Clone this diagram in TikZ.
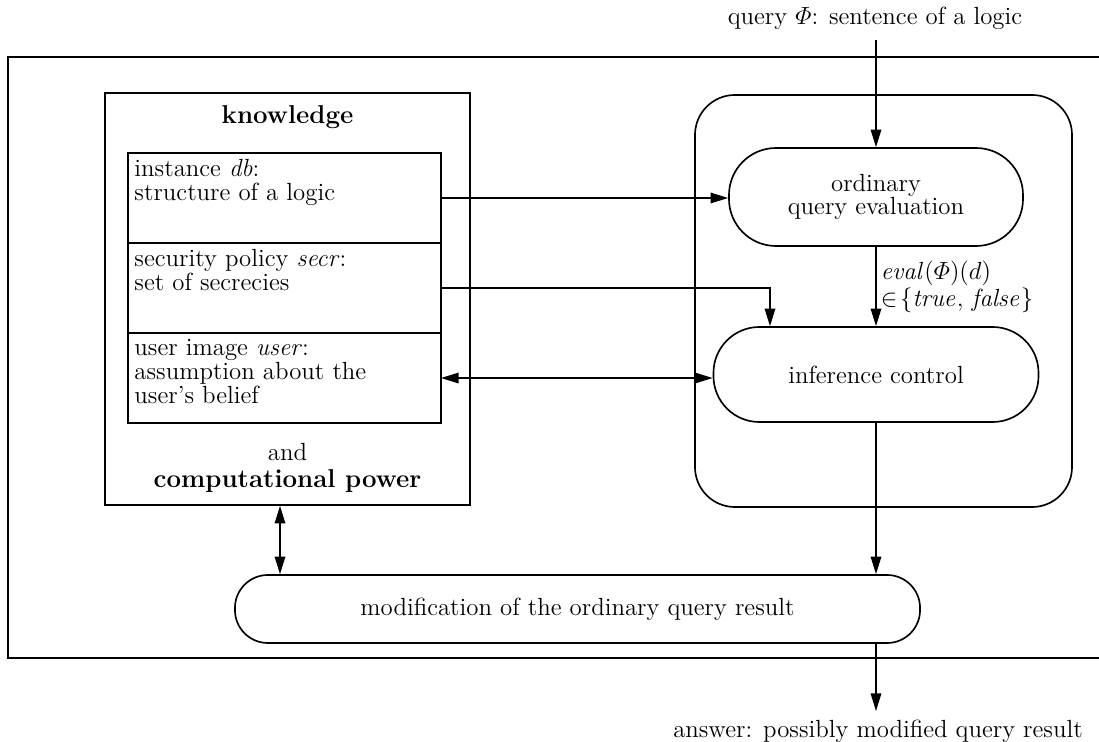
\documentclass[tikz,border=0pt]{standalone}
\usepackage{amsmath}
\usepackage{tikz}
\usetikzlibrary{
    arrows.meta,
    positioning,
    calc
}
\newcommand{\celltext}[1]{\parbox[c][1.3cm][t]{5.1cm}{\raggedright #1}}
\tikzset{
    % Outer system frame
    frameline/.style={
        line width=1.2pt
    },
    % Knowledge container
    knowbox/.style={
        rectangle,
        draw,
        line width=0.8pt,
        minimum width=6.205cm,
        minimum height=7.004cm
    },
    % Stacked cell inside knowledge box
    cellbox/.style={
        rectangle,
        draw,
        line width=0.7pt,
        minimum width=5.321cm,
        minimum height=1.53cm,
        inner sep=2pt,
        outer sep=0pt
    },
    % Rounded control container
    ctrlbox/.style={
        rectangle,
        draw,
        line width=0.8pt,
        rounded corners=0.68cm,
        minimum width=6.409cm,
        minimum height=7.004cm
    },
    % Process (stadium) node
    procnode/.style={
        rectangle,
        draw,
        line width=0.8pt,
        rounded corners=#1,
        align=center
    },
    procnode/.default=0.75cm,
    % Bold heading text
    headtext/.style={
        font=\fontsize{12.5}{12.5}\selectfont\bfseries
    },
    % Arrow styles
    arr/.style={
        -{Triangle[length=3mm,width=1.8mm]},
        line width=0.7pt
    },
    darr/.style={
        {Triangle[length=3mm,width=1.8mm]}-{Triangle[length=3mm,width=1.8mm]},
        line width=0.7pt
    }
}

\begin{document}
\begin{tikzpicture}[x=0.017cm, y=-0.017cm, font=\fontsize{12}{11.5}\selectfont]

    \useasboundingbox (0,0) rectangle (1099,742);

    % Outer frame (open on the right)
    \draw[frameline] (1099,57) -- (8,57) -- (8,658) -- (1099,658);

    % Knowledge box
    \node[knowbox] (know) at (287.5,299) {};
    \node[headtext] (knowtitle) at (287.5,117) {knowledge};
    \node[align=center, font=\fontsize{12}{13}\selectfont] (power) at (287.5,468) {and\\{\fontsize{12.5}{12.5}\selectfont\bfseries computational power}};

    % Knowledge cells
    \node[cellbox] (db) at (284.5,198) {\celltext{instance \textit{db}:\\structure of a logic}};
    \node[cellbox, below=0pt of db] (secr) {\celltext{security policy \textit{secr}:\\set of secrecies}};
    \node[cellbox, below=0pt of secr] (user) {\celltext{user image \textit{user}:\\assumption about the\\user's belief}};

    % Control box
    \node[ctrlbox] (ctrl) at (883.5,301) {};
    \node[procnode=0.8cm, minimum width=4.998cm, minimum height=1.666cm] (evalq) at (876,197) {ordinary\\query evaluation};
    \node[procnode=0.78cm, minimum width=5.525cm, minimum height=1.615cm] (infer) at (876,374.5) {inference control};

    % Modification node
    \node[procnode=0.56cm, minimum width=11.645cm, minimum height=1.156cm] (modif) at (577.5,609) {modification of the ordinary query result};

    % Query and answer
    \node (query) at (875,18) {query $\varPhi$: sentence of a logic};
    \node (answer) at (878,731) {answer: possibly modified query result};
    \coordinate (qtop) at (876,40);
    \coordinate (aend) at (876,711);
    \coordinate (sx) at (770,300);
    \coordinate (kx) at (280,540);

    % Arrows
    \draw[arr] (qtop) -- (qtop |- evalq.north);
    \draw[arr] (db.east) -- (db.east -| evalq.west);
    \draw[arr] (secr.east) -| (sx |- infer.north);
    \draw[darr] (user.east) -- (user.east -| infer.west);
    \draw[arr] (evalq.south) -- (evalq.south |- infer.north)
        node[midway, right, align=left, inner sep=2pt, font=\fontsize{12}{13}\selectfont] {$\mathit{eval}(\varPhi)(d)$\\$\in\!\{\mathit{true},\,\mathit{false}\}$};
    \draw[arr] (infer.south) -- (infer.south |- modif.north);
    \draw[darr] (kx |- know.south) -- (kx |- modif.north);
    \draw[arr] (aend |- modif.south) -- (aend);

\end{tikzpicture}
\end{document}
